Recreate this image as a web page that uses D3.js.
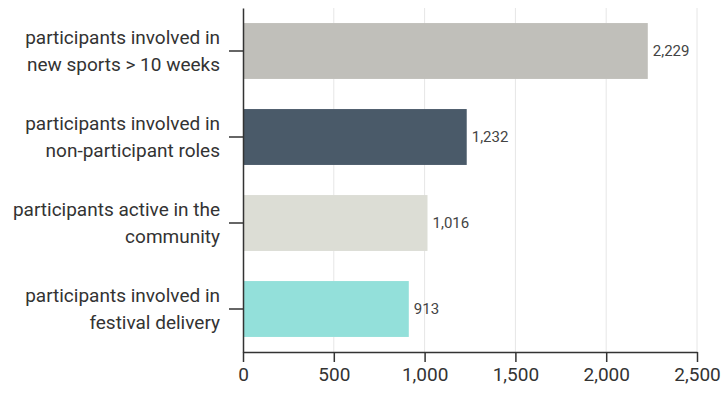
<!DOCTYPE html>
<html><head><meta charset="utf-8">
<script src="https://cdn.jsdelivr.net/npm/d3@7"></script>
<style>
html,body{margin:0;padding:0;background:#fff;}
svg{display:block;font-family:Roboto, "Noto Sans", sans-serif;}
</style></head>
<body>
<svg id="chart" width="721" height="394"></svg>
<script>
const categories = [
  ["participants involved in", "new sports > 10 weeks"],
  ["participants involved in", "non-participant roles"],
  ["participants active in the", "community"],
  ["participants involved in", "festival delivery"]
];
const values = [2229, 1232, 1016, 913];
const barColors = ["#c0bfba", "#4a5a69", "#dcddd5", "#93e0da"];
const xTicks = [0, 500, 1000, 1500, 2000, 2500];

const svg = d3.select("#chart");
const x = d3.scaleLinear().domain([0, 2500]).range([243, 697]);
const y = d3.scaleBand().domain(d3.range(categories.length)).range([8, 352])
  .paddingInner(0.35).paddingOuter(0.175);
const fmt = d3.format(",");

// grid
svg.append("g").selectAll("line").data(xTicks.slice(1)).join("line")
  .attr("x1", d => x(d)).attr("x2", d => x(d))
  .attr("y1", 8).attr("y2", 352)
  .attr("stroke", "#e6e6e6").attr("stroke-width", 1);

// bars
svg.append("g").selectAll("rect").data(values).join("rect")
  .attr("x", x(0)).attr("y", (d, i) => y(i))
  .attr("width", d => x(d) - x(0)).attr("height", y.bandwidth())
  .attr("fill", (d, i) => barColors[i]);

// value labels
svg.append("g").selectAll("text").data(values).join("text")
  .attr("x", d => x(d) + 5).attr("y", (d, i) => y(i) + y.bandwidth() / 2)
  .attr("dy", "0.35em").attr("font-size", 15).attr("fill", "#444")
  .text(d => fmt(d));

// x axis
const xAxis = svg.append("g").attr("transform", "translate(0,352)")
  .call(d3.axisBottom(x).tickValues(xTicks).tickFormat(fmt).tickSize(10).tickSizeOuter(0));
xAxis.select(".domain").attr("stroke", "#333").attr("stroke-width", 1.5);
xAxis.selectAll(".tick line").attr("stroke", "#333").attr("stroke-width", 1.5);
xAxis.selectAll(".tick text").attr("font-size", 19).attr("fill", "#333")
  .attr("font-family", "Roboto").attr("dy", "0.85em");

// y axis
const yAxis = svg.append("g").attr("transform", "translate(243,0)")
  .call(d3.axisLeft(y).tickSize(14).tickSizeOuter(0).tickFormat(""));
yAxis.select(".domain").attr("stroke", "#333").attr("stroke-width", 1.5);
yAxis.selectAll(".tick line").attr("stroke", "#333").attr("stroke-width", 1.5);

// y labels
const lab = svg.append("g").selectAll("text").data(categories).join("text")
  .attr("text-anchor", "end").attr("font-size", 19).attr("fill", "#333")
  .attr("font-family", "Roboto")
  .attr("transform", (d, i) => `translate(220,${y(i) + y.bandwidth() / 2})`);
lab.selectAll("tspan").data(d => d).join("tspan")
  .attr("x", 0).attr("y", (d, j) => (j - 0.5) * 27).attr("dy", "0.35em")
  .text(d => d);
</script>
</body></html>
